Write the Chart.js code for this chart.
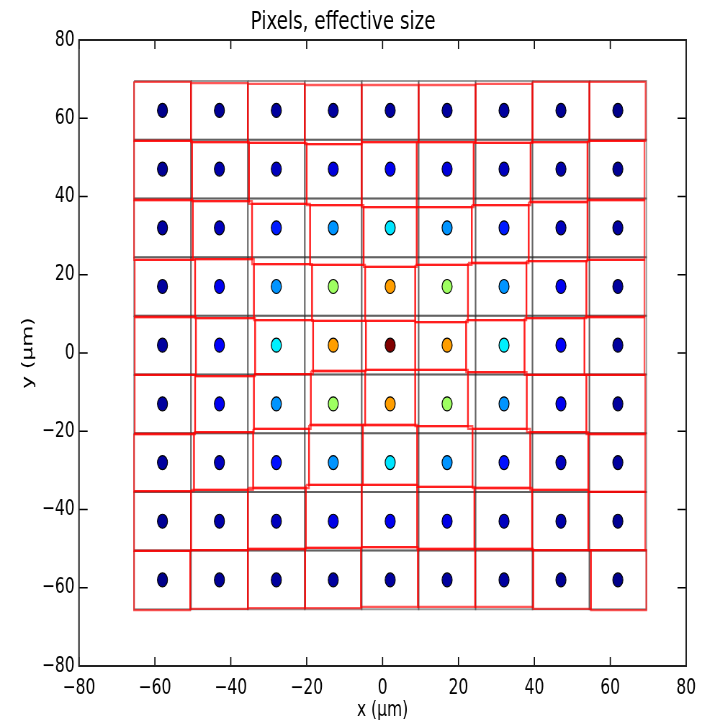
<!DOCTYPE html>
<html><head><meta charset="utf-8">
<script src="https://cdn.jsdelivr.net/npm/chart.js@4.4.1/dist/chart.umd.min.js"></script>
<style>
html,body{margin:0;padding:0;background:#fff;overflow:hidden;}
#wrap{width:985px;height:723px;transform:scaleX(0.72);transform-origin:0 0;}
</style></head><body>
<div id="wrap"><canvas id="c" width="985" height="723"></canvas></div>
<script>
// ---- data ----
const xCenters = [-58, -43, -28, -13, 2, 17, 32, 47, 62];
const yCenters = [62, 47, 32, 17, 2, -13, -28, -43, -58];
const gridXEdges = [-65.5, -50.5, -35.5, -20.5, -5.5, 9.5, 24.5, 39.5, 54.5, 69.5];
const gridYEdges = [69.5, 54.5, 39.5, 24.5, 9.5, -5.5, -20.5, -35.5, -50.5, -65.5];
// jet-colormap intensity of each pixel, rows top (y=62) to bottom (y=-58)
const intensity = [
  [0.01, 0.02, 0.03, 0.03, 0.03, 0.03, 0.03, 0.02, 0.01],
  [0.02, 0.04, 0.06, 0.09, 0.11, 0.09, 0.06, 0.04, 0.02],
  [0.03, 0.06, 0.15, 0.27, 0.35, 0.27, 0.15, 0.06, 0.03],
  [0.03, 0.11, 0.27, 0.53, 0.72, 0.53, 0.27, 0.11, 0.03],
  [0.03, 0.12, 0.36, 0.72, 1.00, 0.72, 0.36, 0.12, 0.03],
  [0.03, 0.11, 0.27, 0.53, 0.72, 0.53, 0.27, 0.11, 0.03],
  [0.03, 0.06, 0.14, 0.27, 0.35, 0.27, 0.14, 0.06, 0.03],
  [0.02, 0.04, 0.06, 0.10, 0.11, 0.10, 0.06, 0.04, 0.02],
  [0.01, 0.02, 0.03, 0.03, 0.03, 0.03, 0.03, 0.02, 0.01]
];
// effective pixel (red) x-edges for each row, top row first
const redXEdges = [
  [-65.5, -50.5, -35.5, -20.5, -5.5, 9.5, 24.5, 39.5, 54.5, 69.3],
  [-65.5, -50.2, -35.2, -20.0, -5.5, 9.0, 24.0, 39.0, 54.0, 69.0],
  [-65.5, -50.0, -34.4, -19.1, -5.0, 9.0, 23.5, 38.5, 54.0, 69.0],
  [-65.3, -49.4, -33.9, -18.6, -4.6, 8.6, 22.5, 37.9, 53.7, 69.0],
  [-65.3, -49.2, -33.6, -18.3, -4.4, 8.6, 22.0, 37.4, 53.2, 69.0],
  [-65.3, -49.4, -33.9, -18.9, -4.6, 8.6, 22.5, 38.0, 53.7, 69.2],
  [-65.5, -49.7, -34.1, -19.4, -5.2, 9.1, 23.7, 38.9, 54.2, 69.2],
  [-65.5, -50.5, -35.5, -20.2, -5.5, 9.1, 24.2, 39.4, 54.2, 69.2],
  [-65.5, -50.7, -35.5, -20.4, -5.7, 9.3, 24.4, 39.7, 54.9, 69.5]
];
// effective pixel (red) y-edges for each column, top to bottom
const redYEdges = [
  [69.3, 54.2, 39.1, 23.8, 9.2, -5.6, -20.7, -35.3, -50.6, -65.7],
  [69.0, 53.9, 38.8, 24.0, 8.9, -5.9, -20.2, -35.0, -50.4, -65.4],
  [68.8, 53.7, 38.1, 22.7, 8.4, -5.4, -19.4, -34.5, -50.1, -65.2],
  [68.5, 53.4, 37.8, 22.5, 8.2, -4.6, -18.4, -33.7, -49.8, -65.2],
  [68.5, 53.9, 37.3, 22.0, 8.2, -4.3, -18.4, -33.7, -49.6, -64.9],
  [68.5, 53.9, 37.3, 22.5, 7.9, -4.3, -18.7, -34.2, -50.1, -64.9],
  [68.8, 53.7, 37.8, 23.0, 8.4, -4.9, -19.4, -34.5, -50.1, -64.9],
  [69.3, 53.9, 38.6, 23.5, 8.9, -5.6, -20.2, -35.0, -50.4, -65.4],
  [69.3, 54.2, 39.1, 23.8, 9.2, -5.6, -20.7, -35.5, -50.4, -65.7]
];
const xTicks = [-80, -60, -40, -20, 0, 20, 40, 60, 80];
const yTicks = [-80, -60, -40, -20, 0, 20, 40, 60, 80];
const titleText = 'Pixels, effective size';
const xLabel = 'x (\u03bcm)';
const yLabel = 'y (\u03bcm)';

// ---- helpers ----
function jet(v) {
  const c = t => Math.round(255 * Math.max(0, Math.min(1, t)));
  return `rgb(${c(1.5 - Math.abs(4*v - 3))},${c(1.5 - Math.abs(4*v - 2))},${c(1.5 - Math.abs(4*v - 1))})`;
}
function rect(x0, x1, yTop, yBot) {
  return [{x:x0,y:yTop},{x:x1,y:yTop},{x:x1,y:yBot},{x:x0,y:yBot},{x:x0,y:yTop}];
}
const FONT = 'DejaVu Sans';
const datasets = [];
// points
const pts = [], cols = [];
for (let j = 0; j < 9; j++) for (let i = 0; i < 9; i++) {
  pts.push({x: xCenters[i], y: yCenters[j]});
  cols.push(jet(intensity[j][i]));
}
datasets.push({data: pts, backgroundColor: cols, borderColor: '#000', borderWidth: 1.2,
  pointRadius: 7, pointHoverRadius: 7, order: 0});
// red effective squares
for (let j = 0; j < 9; j++) for (let i = 0; i < 9; i++) {
  datasets.push({data: rect(redXEdges[j][i], redXEdges[j][i+1], redYEdges[i][j], redYEdges[i][j+1]),
    showLine: true, borderColor: 'rgba(255,0,0,0.65)', borderWidth: 2.3, pointRadius: 0, fill: false, order: 1});
}
// gray nominal squares
for (let j = 0; j < 9; j++) for (let i = 0; i < 9; i++) {
  datasets.push({data: rect(gridXEdges[i], gridXEdges[i+1], gridYEdges[j], gridYEdges[j+1]),
    showLine: true, borderColor: 'rgba(30,30,30,0.45)', borderWidth: 2, pointRadius: 0, fill: false, order: 2});
}

const frame = {
  id: 'frame',
  afterDatasetsDraw(chart) {
    const {ctx, chartArea: a, scales: {x, y}} = chart;
    ctx.save();
    ctx.strokeStyle = '#000';
    ctx.lineWidth = 1.6;
    ctx.beginPath();
    x.ticks.forEach(t => { const p = x.getPixelForValue(t.value);
      ctx.moveTo(p, a.top); ctx.lineTo(p, a.top + 9);
      ctx.moveTo(p, a.bottom); ctx.lineTo(p, a.bottom - 9); });
    y.ticks.forEach(t => { const p = y.getPixelForValue(t.value);
      ctx.moveTo(a.left, p); ctx.lineTo(a.left + 12, p);
      ctx.moveTo(a.right, p); ctx.lineTo(a.right - 12, p); });
    ctx.stroke();
    ctx.lineWidth = 2;
    ctx.strokeStyle = '#222';
    ctx.strokeRect(a.left, a.top, a.width, a.height);
    ctx.restore();
  }
};
const fmt = v => v < 0 ? '\u2212' + Math.abs(v) : String(v);

new Chart(document.getElementById('c'), {
  type: 'scatter',
  data: {datasets},
  plugins: [frame],
  options: {
    responsive: false, animation: false,
    layout: {padding: {left: 0, right: 32, top: 0, bottom: 0}},
    plugins: {
      legend: {display: false}, tooltip: {enabled: false},
      title: {display: true, text: titleText, color: '#000',
        font: {family: FONT, size: 25.5, weight: 'normal'}, padding: {top: 7, bottom: 2.4}}
    },
    scales: {
      x: {type: 'linear', min: -80, max: 80,
        afterBuildTicks: s => { s.ticks = xTicks.map(v => ({value: v})); },
        afterFit: s => { s.height = 57; },
        grid: {display: false, drawTicks: false}, border: {display: false},
        ticks: {color: '#000', padding: 9, maxRotation: 0, autoSkip: false,
          font: {family: FONT, size: 21.6}, callback: fmt},
        title: {display: true, text: xLabel, color: '#000',
          font: {family: FONT, size: 21.6}, padding: {top: 0, bottom: 0}}
      },
      y: {type: 'linear', min: -80, max: 80,
        afterBuildTicks: s => { s.ticks = yTicks.map(v => ({value: v})); },
        afterFit: s => { s.width = 109.7; },
        grid: {display: false, drawTicks: false}, border: {display: false},
        ticks: {color: '#000', padding: 6, autoSkip: false,
          font: {family: FONT, size: 21.6}, callback: fmt},
        title: {display: true, text: yLabel, color: '#000',
          font: {family: FONT, size: 21.6}, padding: {top: 26, bottom: 0}}
      }
    }
  }
});
</script>
</body></html>
